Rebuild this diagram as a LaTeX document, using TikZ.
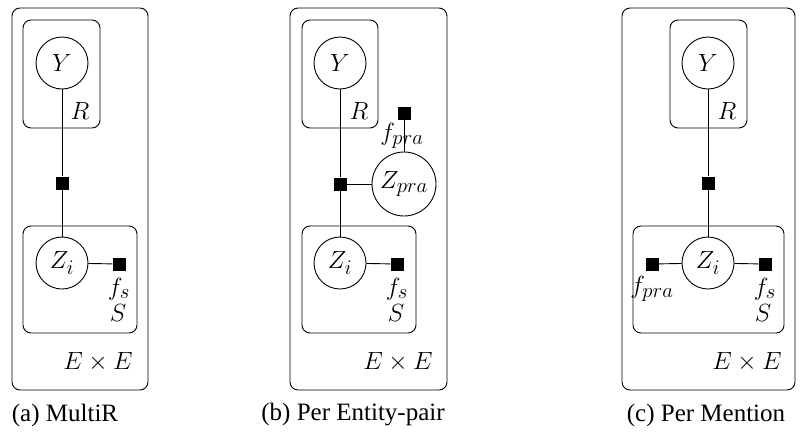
\documentclass[tikz,border=0pt]{standalone}
\usepackage{fontspec}
\newfontfamily\capfont{Liberation Serif}
\begin{document}
\begin{tikzpicture}[x=1pt,y=-1pt,
  every node/.style={font=\fontsize{24.88}{28}\selectfont},
  plate/.style={draw,rounded corners=8pt,line width=0.9pt},
  var/.style={draw,circle,minimum size=52pt,inner sep=0pt,line width=0.9pt},
  bigvar/.style={draw,circle,minimum size=64pt,inner sep=0pt,line width=0.9pt},
  factor/.style={rectangle,fill=black,minimum size=13pt,inner sep=0pt},
  lbl/.style={inner sep=0pt},
  conn/.style={line width=0.9pt},
  captext/.style={font=\fontsize{25}{29}\selectfont\capfont}]
\useasboundingbox (0,0) rectangle (800,445);
% ---- (a)
\draw[plate] (12,8) rectangle (148,390);
\draw[plate] (23,20) rectangle (100,128);
\draw[plate] (23,226) rectangle (137,333);
\node[var] (aY) at (62,63) {$Y$};
\node[factor] (aF) at (62,183) {};
\node[var] (aZ) at (62,263) {$Z_i$};
\node[factor] (aFs) at (119,264) {};
\draw[conn] (aY) -- (aF) -- (aZ);
\draw[conn] (aZ) -- (aFs);
\node[lbl] (aR) at (80,111) {$R$};
\node[lbl] (afs) at (119,289) {$f_s$};
\node[lbl] (aS) at (118,313) {$S$};
\node[lbl] (aEE) at (98,362) {$E\times E$};
\node[captext] (capa) at (65,415) {(a) MultiR};
% ---- (b)
\draw[plate] (290,8) rectangle (447,390);
\draw[plate] (302,20) rectangle (378,128);
\draw[plate] (302,226) rectangle (416,333);
\node[var] (bY) at (340,63) {$Y$};
\node[factor] (bF) at (340,184) {};
\node[bigvar] (bZp) at (404,184) {$Z_{pra}$};
\node[factor] (bFp) at (404,113) {};
\node[var] (bZ) at (340,263) {$Z_i$};
\node[factor] (bFs) at (397,264) {};
\draw[conn] (bY) -- (bF) -- (bZ);
\draw[conn] (bF) -- (bZp);
\draw[conn] (bZp) -- (bFp);
\draw[conn] (bZ) -- (bFs);
\node[lbl] (bR) at (359,111) {$R$};
\node[lbl] (bfp) at (402,136) {$f_{pra}$};
\node[lbl] (bfs) at (397,289) {$f_s$};
\node[lbl] (bS) at (396,313) {$S$};
\node[lbl] (bEE) at (398,362) {$E\times E$};
\node[captext] (capb) at (353,415) {(b) Per Entity-pair};
% ---- (c)
\draw[plate] (622,8) rectangle (795,390);
\draw[plate] (670,20) rectangle (747,128);
\draw[plate] (633,226) rectangle (784,333);
\node[var] (cY) at (708,63) {$Y$};
\node[factor] (cF) at (708,183) {};
\node[var] (cZ) at (708,263) {$Z_i$};
\node[factor] (cFp) at (652,264) {};
\node[factor] (cFs) at (765,264) {};
\draw[conn] (cY) -- (cF) -- (cZ);
\draw[conn] (cZ) -- (cFp);
\draw[conn] (cZ) -- (cFs);
\node[lbl] (cR) at (727,111) {$R$};
\node[lbl] (cfp) at (652,289) {$f_{pra}$};
\node[lbl] (cfs) at (765,289) {$f_s$};
\node[lbl] (cS) at (763,313) {$S$};
\node[lbl] (cEE) at (747,362) {$E\times E$};
\node[captext] (capc) at (706,415) {(c) Per Mention};
\end{tikzpicture}
\end{document}
